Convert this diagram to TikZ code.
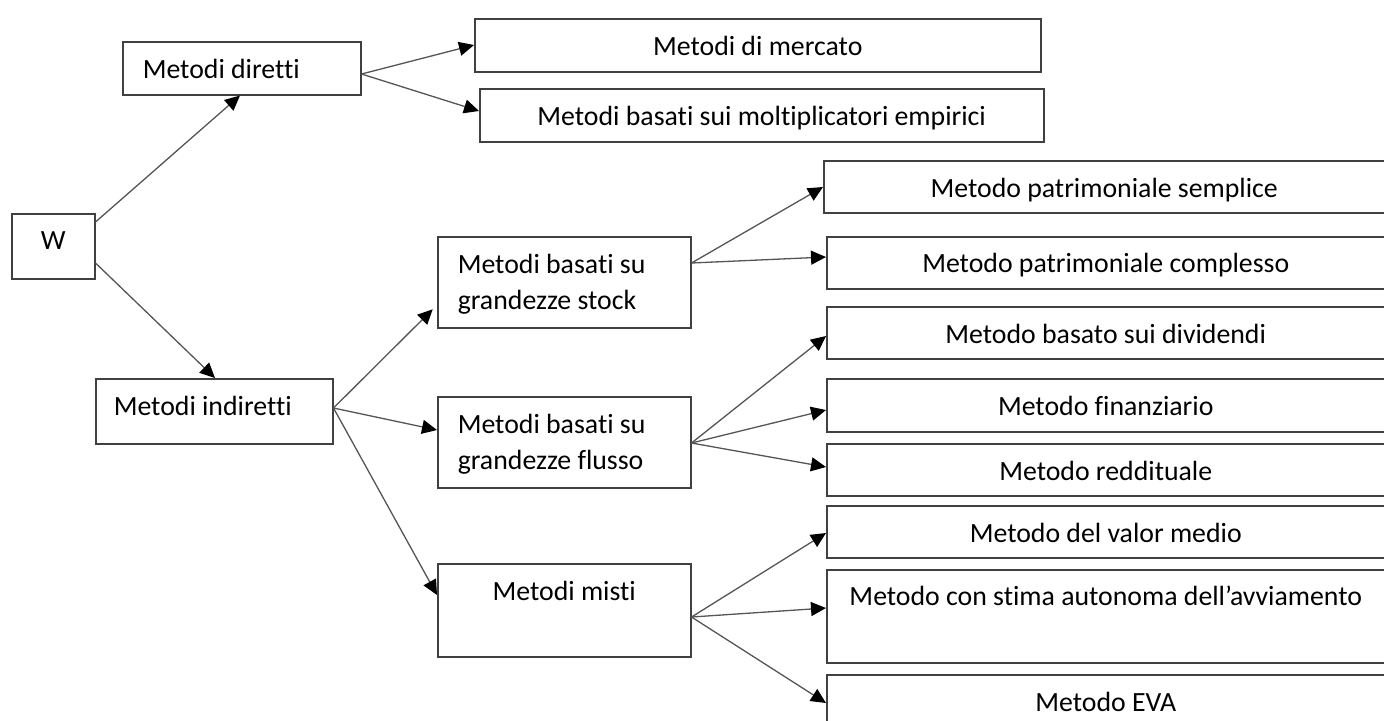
\documentclass[tikz,border=0pt]{standalone}
\usepackage{fontspec}
\setmainfont{Carlito}[Ligatures={NoCommon}]
\usetikzlibrary{arrows.meta}
\definecolor{boxclr}{HTML}{404040}
\definecolor{connclr}{HTML}{555555}
\tikzset{
  box/.style={draw=boxclr, line width=0.75pt, anchor=north west, inner sep=0pt,
    text=black, font=\fontsize{13.9}{18}\selectfont},
  arr/.style={draw=connclr, line width=0.65pt,
    -{Triangle[length=7.5pt,width=7pt,color=black]}},
}
\begin{document}
\begin{tikzpicture}[x=0.5pt,y=-0.5pt]
\clip (0,0) rectangle (1384,720);
% level 0
\node[box, minimum width=41.5pt, text height=18pt, text depth=14.5pt] (W) at (11,213) {W};
% level 1
\node[box, text height=18.5pt, text depth=8pt] (dir) at (122,41)
  {\makebox[119pt][l]{\hspace{10pt}Metodi diretti}};
\node[box, text height=18.5pt, text depth=14pt] (ind) at (95,378)
  {\makebox[118.5pt][l]{\hspace{9pt}Metodi indiretti}};
% level 2 (direct)
\node[box, minimum width=283pt, text height=18.5pt, text depth=8pt] (merc) at (474,18) {Metodi di mercato};
\node[box, minimum width=282pt, text height=18.5pt, text depth=8pt] (molt) at (479,88) {Metodi basati sui moltiplicatori empirici};
% level 2 (indirect)
\node[box, text height=18.5pt, text depth=27pt] (stock) at (437,236)
  {\makebox[126.5pt][l]{\hspace{10pt}\begin{tabular}[t]{@{}l@{}}Metodi basati su\\grandezze stock\end{tabular}}};
\node[box, text height=18.5pt, text depth=27pt] (flusso) at (437,396)
  {\makebox[126.5pt][l]{\hspace{10pt}\begin{tabular}[t]{@{}l@{}}Metodi basati su\\grandezze flusso\end{tabular}}};
\node[box, minimum width=126.5pt, text height=18.5pt, text depth=28pt] (misti) at (437,563) {Metodi misti};
% level 3
\node[box, minimum width=280.5pt, text height=18.5pt, text depth=7.5pt] (sempl) at (823,160) {Metodo patrimoniale semplice};
\node[box, minimum width=279pt, text height=18pt, text depth=8pt] (compl) at (826,236) {Metodo patrimoniale complesso};
\node[box, minimum width=279pt, text height=18.5pt, text depth=7.5pt] (divid) at (826,306) {Metodo basato sui dividendi};
\node[box, minimum width=279pt, text height=18.5pt, text depth=8pt] (finan) at (826,378) {Metodo finanziario};
\node[box, minimum width=279pt, text height=18.5pt, text depth=7.5pt] (reddi) at (826,443) {Metodo reddituale};
\node[box, minimum width=279pt, text height=18.5pt, text depth=7.5pt] (valor) at (826,505) {Metodo del valor medio};
\node[box, minimum width=279pt, text height=18pt, text depth=28.5pt] (avvia) at (826,569) {Metodo con stima autonoma dell’avviamento};
\node[box, minimum width=279pt, text height=18.5pt, text depth=7.5pt] (eva) at (826,674) {Metodo EVA};
% connectors
\draw[arr] ([yshift=-4.5pt]W.north east) -- ([xshift=59pt]dir.south west);
\draw[arr] ([yshift=-25pt]W.north east) -- ([xshift=60pt]ind.north west);
\draw[arr] ([yshift=-16.5pt]dir.north east) -- ([yshift=-13.5pt]merc.north west);
\draw[arr] ([yshift=-16.5pt]dir.north east) -- ([yshift=-11.5pt]molt.north west);
\draw[arr, shorten >=3pt] ([yshift=-15pt]ind.north east) -- ([yshift=-34.5pt]stock.north west);
\draw[arr] ([yshift=-15pt]ind.north east) -- ([yshift=-17pt]flusso.north west);
\draw[arr] ([yshift=-15pt]ind.north east) -- ([yshift=-16pt]misti.north west);
\draw[arr] ([yshift=-13.5pt]stock.north east) -- ([yshift=-13.5pt]sempl.north west);
\draw[arr] ([yshift=-13.5pt]stock.north east) -- ([yshift=-10.5pt]compl.north west);
\draw[arr] ([yshift=-23.5pt]flusso.north east) -- ([yshift=-15pt]divid.north west);
\draw[arr] ([yshift=-23.5pt]flusso.north east) -- ([yshift=-16pt]finan.north west);
\draw[arr] ([yshift=-23.5pt]flusso.north east) -- ([yshift=-12pt]reddi.north west);
\draw[arr] ([yshift=-27pt]misti.north east) -- ([yshift=-14pt]valor.north west);
\draw[arr] ([yshift=-27pt]misti.north east) -- ([yshift=-19.5pt]avvia.north west);
\draw[arr] ([yshift=-27pt]misti.north east) -- ([yshift=-14.5pt]eva.north west);
\end{tikzpicture}
\end{document}
